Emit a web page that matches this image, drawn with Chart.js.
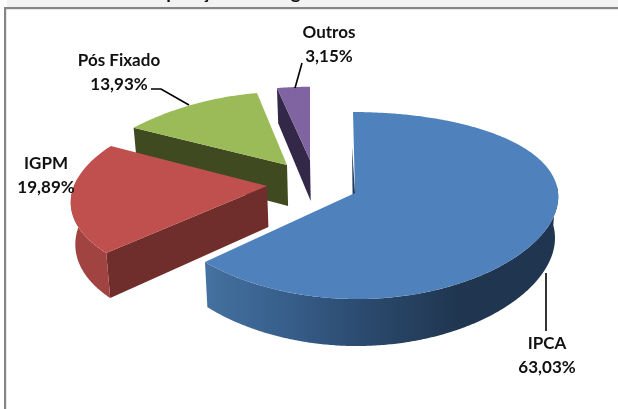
<!DOCTYPE html>
<html lang="pt">
<head>
<meta charset="utf-8">
<style>html,body{margin:0;padding:0;background:#fff}canvas{display:block}</style>
<script src="https://cdn.jsdelivr.net/npm/chart.js@4"></script>
</head>
<body>
<canvas id="c" width="618" height="409"></canvas>
<script>
const categories = ['IPCA', 'IGPM', 'Pós Fixado', 'Outros'];
const shares = [63.03, 19.89, 13.93, 3.15];
const topColors = ['#4f81bd', '#c0504d', '#9bbb59', '#8064a2'];
const sideColors = ['#1f3550', '#a14441', '#7e9a48', '#6a5387'];
const cutColors = ['#1f3a5c', '#6f2d2b', '#404a20', '#342848'];
const titleText = 'Composição dos Segmentos';

// Perspective and explosion of each slice (offset from the pie centre in px,
// horizontal/vertical radius as a fraction of the library radius, foreshortening).
const view = [
  {dx: 46, dy: -11.5, rx: .993, kx: .03, ry: .449, ky: .134, sk: 2, sliver: true},
  {dx: -42, dy: -18.5, rx: .944, kx: .18, ry: .436, ky: .133, sk: 0, sliver: false},
  {dx: -22, dy: -39.5, rx: .988, kx: .33, ry: .406, ky: .134, sk: 0, sliver: false},
  {dx: 1, dy: -44.5, rx: .822, kx: 0, ry: .406, ky: .134, sk: 0, sliver: false}
];
// Data labels and leaders, relative to the top-left of the canvas.
const labelSpots = [
  {x: 547, y: 344, leader: [[546, 273], [546, 331]]},
  {x: 46, y: 164, leader: []},
  {x: 119, y: 61, leader: [[151, 89], [161, 89], [189, 105]]},
  {x: 329, y: 33, leader: [[302, 63], [295, 88]]}
];
const LABEL_FONT = 'bold 17px Lato, Carlito, sans-serif';
const LINE_GAP = 23.5;

function project(arc, p, a) {
  const R = arc.outerRadius, u = Math.cos(a), v = Math.sin(a);
  return {
    x: arc.x + p.dx + (p.rx * R * u) / (1 - p.kx * v) + p.sk * v,
    y: arc.y + p.dy + (p.ry * R * v) / (1 - p.ky * v),
    v
  };
}
function sink(arc, pt, v) {
  const d = 41 + 6 * v;
  return {x: pt.x - (pt.x - (arc.x + 46)) * 0.016, y: pt.y + d};
}
function sample(a0, a1) {
  const n = Math.max(2, Math.ceil(Math.abs(a1 - a0) / 0.01)), out = [];
  for (let i = 0; i <= n; i++) out.push(a0 + (a1 - a0) * i / n);
  return out;
}
function poly(ctx, pts) {
  ctx.beginPath();
  pts.forEach((q, i) => i ? ctx.lineTo(q.x, q.y) : ctx.moveTo(q.x, q.y));
  ctx.closePath();
}

const pie3d = {
  id: 'pie3d',
  beforeDraw(chart) {
    const ctx = chart.ctx;
    ctx.save();
    ctx.fillStyle = '#f2f2f2';
    ctx.fillRect(7, 0, 611, 7);
    ctx.fillStyle = '#111';
    ctx.font = 'bold 19px Lato, Carlito, sans-serif';
    ctx.textBaseline = 'alphabetic';
    ctx.textAlign = 'left';
    ctx.save();
    ctx.beginPath(); ctx.rect(0, 0, 618, 7); ctx.clip();
    ctx.fillText(titleText, 127, -1);
    ctx.restore();
    ctx.fillStyle = '#868686';
    ctx.fillRect(4, 7, 614, 2.2);
    ctx.fillRect(4, 7, 2.2, 402);
    ctx.restore();
  },
  beforeDatasetDraw() { return false; },
  afterDatasetsDraw(chart) {
    const ctx = chart.ctx;
    const arcs = chart.getDatasetMeta(0).data;
    ctx.save();
    for (let i = arcs.length - 1; i >= 0; i--) {
      const arc = arcs[i], p = view[i];
      const a0 = arc.startAngle, a1 = arc.endAngle;
      const apex = {x: arc.x + p.dx, y: arc.y + p.dy};

      // cut face along the slice's starting edge
      const c = project(arc, p, a0);
      const cb = sink(arc, c, c.v), ab = sink(arc, apex, 0);
      if (p.sliver) {
        cb.x -= 1; ab.x -= 2;
        poly(ctx, [apex, cb, ab]);
      } else {
        poly(ctx, [apex, c, cb, ab]);
      }
      ctx.fillStyle = cutColors[i];
      ctx.fill();

      // outer rim facing the viewer
      const lo = Math.max(a0, -0.09), hi = Math.min(a1, Math.PI + 0.09);
      if (hi > lo) {
        const ang = sample(lo, hi);
        const top = ang.map(a => project(arc, p, a));
        const bot = top.map(q => sink(arc, q, q.v)).reverse();
        poly(ctx, top.concat(bot));
        if (i === 0) {
          const g = ctx.createLinearGradient(206, 0, 557, 0);
          g.addColorStop(0, '#44719f');
          g.addColorStop(0.22, '#385f8c');
          g.addColorStop(0.45, '#2b4a6e');
          g.addColorStop(0.72, '#203650');
          g.addColorStop(1, '#1f3550');
          ctx.fillStyle = g;
        } else {
          ctx.fillStyle = sideColors[i];
        }
        ctx.fill();
      }

      // top face
      const rim = sample(a0, a1).map(a => project(arc, p, a));
      poly(ctx, [apex].concat(rim));
      ctx.fillStyle = topColors[i];
      ctx.fill();
    }

    // leaders and data labels
    ctx.strokeStyle = '#000';
    ctx.lineWidth = 1.6;
    ctx.font = LABEL_FONT;
    ctx.fillStyle = '#111';
    ctx.textAlign = 'center';
    ctx.textBaseline = 'middle';
    categories.forEach((name, i) => {
      const s = labelSpots[i];
      if (s.leader.length) {
        ctx.beginPath();
        s.leader.forEach((q, j) => j ? ctx.lineTo(q[0], q[1]) : ctx.moveTo(q[0], q[1]));
        ctx.stroke();
      }
      ctx.fillText(name, s.x, s.y);
      ctx.fillText(shares[i].toFixed(2).replace('.', ',') + '%', s.x, s.y + LINE_GAP);
    });
    ctx.restore();
  }
};

new Chart(document.getElementById('c'), {
  type: 'pie',
  data: {
    labels: categories,
    datasets: [{data: shares, backgroundColor: topColors, borderWidth: 0}]
  },
  options: {
    responsive: false,
    animation: false,
    rotation: 0,
    layout: {padding: 0},
    plugins: {legend: {display: false}, tooltip: {enabled: false}, title: {display: false}}
  },
  plugins: [pie3d]
});
</script>
</body>
</html>
